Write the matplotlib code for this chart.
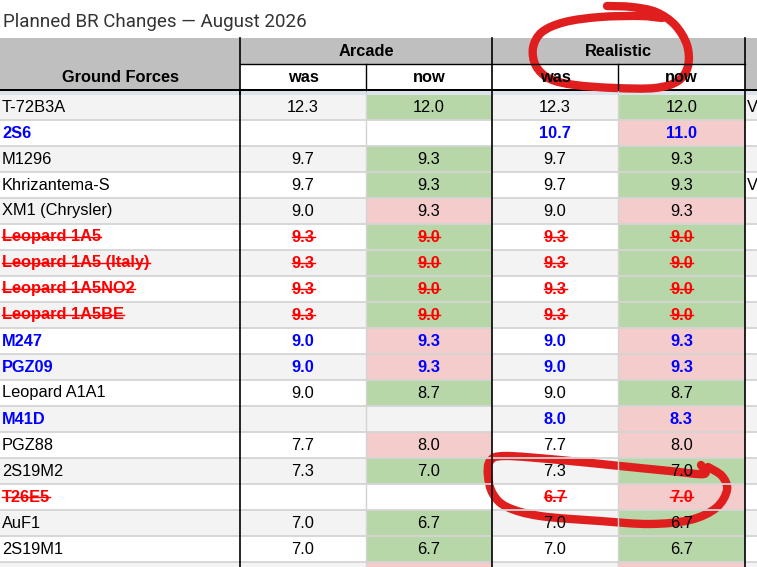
import matplotlib
matplotlib.use("Agg")
import matplotlib.pyplot as plt
from matplotlib.patches import Rectangle
from matplotlib.path import Path
from matplotlib.patches import PathPatch

# ============================================
# Table data
# ============================================

title = "Planned BR Changes \u2014 August 2026"
group_label = "Ground Forces"
modes = ["Arcade", "Realistic"]
sub_labels = ["was", "now"]

names = [
    "T-72B3A", "2S6", "M1296", "Khrizantema-S", "XM1 (Chrysler)",
    "Leopard 1A5", "Leopard 1A5 (Italy)", "Leopard 1A5NO2", "Leopard 1A5BE",
    "M247", "PGZ09", "Leopard A1A1", "M41D", "PGZ88", "2S19M2", "T26E5",
    "AuF1", "2S19M1",
]
arcade_was = ["12.3", "", "9.7", "9.7", "9.0", "9.3", "9.3", "9.3", "9.3",
              "9.0", "9.0", "9.0", "", "7.7", "7.3", "", "7.0", "7.0"]
arcade_now = ["12.0", "", "9.3", "9.3", "9.3", "9.0", "9.0", "9.0", "9.0",
              "9.3", "9.3", "8.7", "", "8.0", "7.0", "", "6.7", "6.7"]
realistic_was = ["12.3", "10.7", "9.7", "9.7", "9.0", "9.3", "9.3", "9.3", "9.3",
                 "9.0", "9.0", "9.0", "8.0", "7.7", "7.3", "6.7", "7.0", "7.0"]
realistic_now = ["12.0", "11.0", "9.3", "9.3", "9.3", "9.0", "9.0", "9.0", "9.0",
                 "9.3", "9.3", "8.7", "8.3", "8.0", "7.0", "7.0", "6.7", "6.7"]
# "" = unchanged vehicle, "new" = added, "removed" = dropped
status = ["", "new", "", "", "", "removed", "removed", "removed", "removed",
          "new", "new", "", "new", "", "", "removed", "", ""]
notes = ["V", "", "", "V", "", "", "", "", "", "", "", "", "", "", "", "", "", ""]
# next row is cut off by the screenshot, only its cell fills show
cut_row_fill = ["", "up", "", "up"]

# ============================================
# Layout (pixels)
# ============================================

W, H = 757, 567
col_edges = [0, 240, 366, 492, 618, 745, 900]
header_top = 38
header_mid = 64
header_bot = 90
body_top = 94
row_h = 26.0

GREEN = "#b7d7a8"
PINK = "#f4cccc"
STRIPE = "#f3f3f3"
HEAD = "#bfbfbf"
GRID = "#d4d4d4"
BLUE = "#0000ff"
RED = "#ff0000"
INK = "#e01e1e"

table_font = "Liberation Sans"
fs = 11.8

fig = plt.figure(figsize=(W / 100, H / 100), dpi=100)
ax = fig.add_axes([0, 0, 1, 1])
ax.set_xlim(0, W)
ax.set_ylim(H, 0)
ax.axis("off")

fig.text(3 / W, 1 - 27 / H, title, fontsize=13.5, family="Roboto",
         color="#333333", va="baseline", ha="left")

# header
ax.add_patch(Rectangle((0, header_top), W, header_bot - header_top, color=HEAD, lw=0))
for c in range(1, 5):
    ax.add_patch(Rectangle((col_edges[c], header_mid), col_edges[c + 1] - col_edges[c],
                           header_bot - header_mid, color="white", lw=0))
ax.text(col_edges[1] / 2, 82.5, group_label, ha="center", va="baseline",
        fontsize=fs, fontweight="bold", family=table_font)
for m, mode in enumerate(modes):
    x0 = col_edges[1 + 2 * m]
    x1 = col_edges[3 + 2 * m]
    ax.text((x0 + x1) / 2, 56.5, mode, ha="center", va="baseline",
            fontsize=fs, fontweight="bold", family=table_font)
    for s, lab in enumerate(sub_labels):
        c = 1 + 2 * m + s
        ax.text((col_edges[c] + col_edges[c + 1]) / 2, 82.5, lab, ha="center",
                va="baseline", fontsize=fs, fontweight="bold", family=table_font)

# body
columns = [arcade_was, arcade_now, realistic_was, realistic_now]
n = len(names)
strike_texts = []


def fill_for(was, now):
    if was == "" or now == "":
        return None
    return GREEN if float(now) < float(was) else PINK


for i in range(n + 1):
    top = body_top + i * row_h
    bg = STRIPE if i % 2 == 0 else "white"
    ax.add_patch(Rectangle((0, top), W, row_h, color=bg, lw=0))
    if i == n:
        for c, kind in enumerate(cut_row_fill):
            if kind:
                ax.add_patch(Rectangle((col_edges[c + 1], top), col_edges[c + 2] - col_edges[c + 1],
                                       row_h, color=PINK if kind == "up" else GREEN, lw=0))
        continue
    for m in range(2):
        f = fill_for(columns[2 * m][i], columns[2 * m + 1][i])
        if f:
            c = 2 + 2 * m
            ax.add_patch(Rectangle((col_edges[c], top), col_edges[c + 1] - col_edges[c],
                                   row_h, color=f, lw=0))
    base = top + row_h - 8.5
    st = status[i]
    color = BLUE if st == "new" else RED if st == "removed" else "black"
    weight = "bold" if st else "normal"
    t = ax.text(2, base, names[i], ha="left", va="baseline", fontsize=fs,
                color=color, fontweight=weight, family=table_font)
    if st == "removed":
        strike_texts.append((t, base))
    for c, col in enumerate(columns):
        if col[i]:
            t = ax.text((col_edges[c + 1] + col_edges[c + 2]) / 2, base, col[i],
                        ha="center", va="baseline", fontsize=fs, color=color,
                        fontweight=weight, family=table_font)
            if st == "removed":
                strike_texts.append((t, base))
    if notes[i]:
        ax.text(col_edges[5] + 2, base, notes[i], ha="left", va="baseline",
                fontsize=fs, family=table_font)

# grid lines
for i in range(n + 1):
    y = body_top + (i + 1) * row_h
    ax.plot([0, W], [y, y], color=GRID, lw=1.3)
for c in [2, 4]:
    ax.plot([col_edges[c]] * 2, [header_bot, H], color=GRID, lw=1.0)
    ax.plot([col_edges[c]] * 2, [header_mid, header_bot], color="black", lw=1.0)
for c in [1, 3, 5]:
    ax.plot([col_edges[c]] * 2, [header_top, H], color="black", lw=1.2)
ax.plot([col_edges[1], col_edges[5]], [header_mid, header_mid], color="black", lw=1.0)
ax.add_patch(Rectangle((0, header_bot - 1), W, 2, color="black", lw=0))
ax.add_patch(Rectangle((0, header_bot + 1), W, 3.5, color="#dde3ea", lw=0))
ax.plot([col_edges[1]] * 2, [header_bot, body_top], color="black", lw=1.2)

# strikethrough for removed vehicles
fig.canvas.draw()
renderer = fig.canvas.get_renderer()
inv = ax.transData.inverted()
for t, base in strike_texts:
    bb = t.get_window_extent(renderer)
    x0 = inv.transform((bb.x0, 0))[0]
    x1 = inv.transform((bb.x1, 0))[0]
    ax.plot([x0, x1], [base - 4.5, base - 4.5], color=RED, lw=1.0)


# hand-drawn red circles, smoothed through the stroke points
def smooth_path(pts):
    verts = [pts[0]]
    codes = [Path.MOVETO]
    k = len(pts)
    for j in range(k - 1):
        p0 = pts[max(j - 1, 0)]
        p1 = pts[j]
        p2 = pts[j + 1]
        p3 = pts[min(j + 2, k - 1)]
        c1 = (p1[0] + (p2[0] - p0[0]) / 6, p1[1] + (p2[1] - p0[1]) / 6)
        c2 = (p2[0] - (p3[0] - p1[0]) / 6, p2[1] - (p3[1] - p1[1]) / 6)
        verts += [c1, c2, p2]
        codes += [Path.CURVE4] * 3
    return Path(verts, codes)


circle_top = [(607, 6), (632, 7), (656, 12), (675, 25), (687, 45), (688, 66),
              (678, 81), (655, 88), (615, 88), (575, 85), (550, 79), (536, 66),
              (533, 48), (542, 32), (565, 22), (600, 17), (640, 16), (662, 18)]
circle_low = [(701, 465), (704, 474), (670, 471), (620, 466), (560, 460),
              (505, 456), (490, 461), (488, 476), (493, 494), (507, 507),
              (540, 516), (600, 521), (650, 524), (690, 520), (716, 508),
              (727, 490), (722, 476), (708, 467)]
for pts in [circle_top, circle_low]:
    ax.add_patch(PathPatch(smooth_path(pts), fill=False, edgecolor=INK, lw=6,
                           capstyle="round", joinstyle="round"))

fig.savefig("out.png", dpi=100)
